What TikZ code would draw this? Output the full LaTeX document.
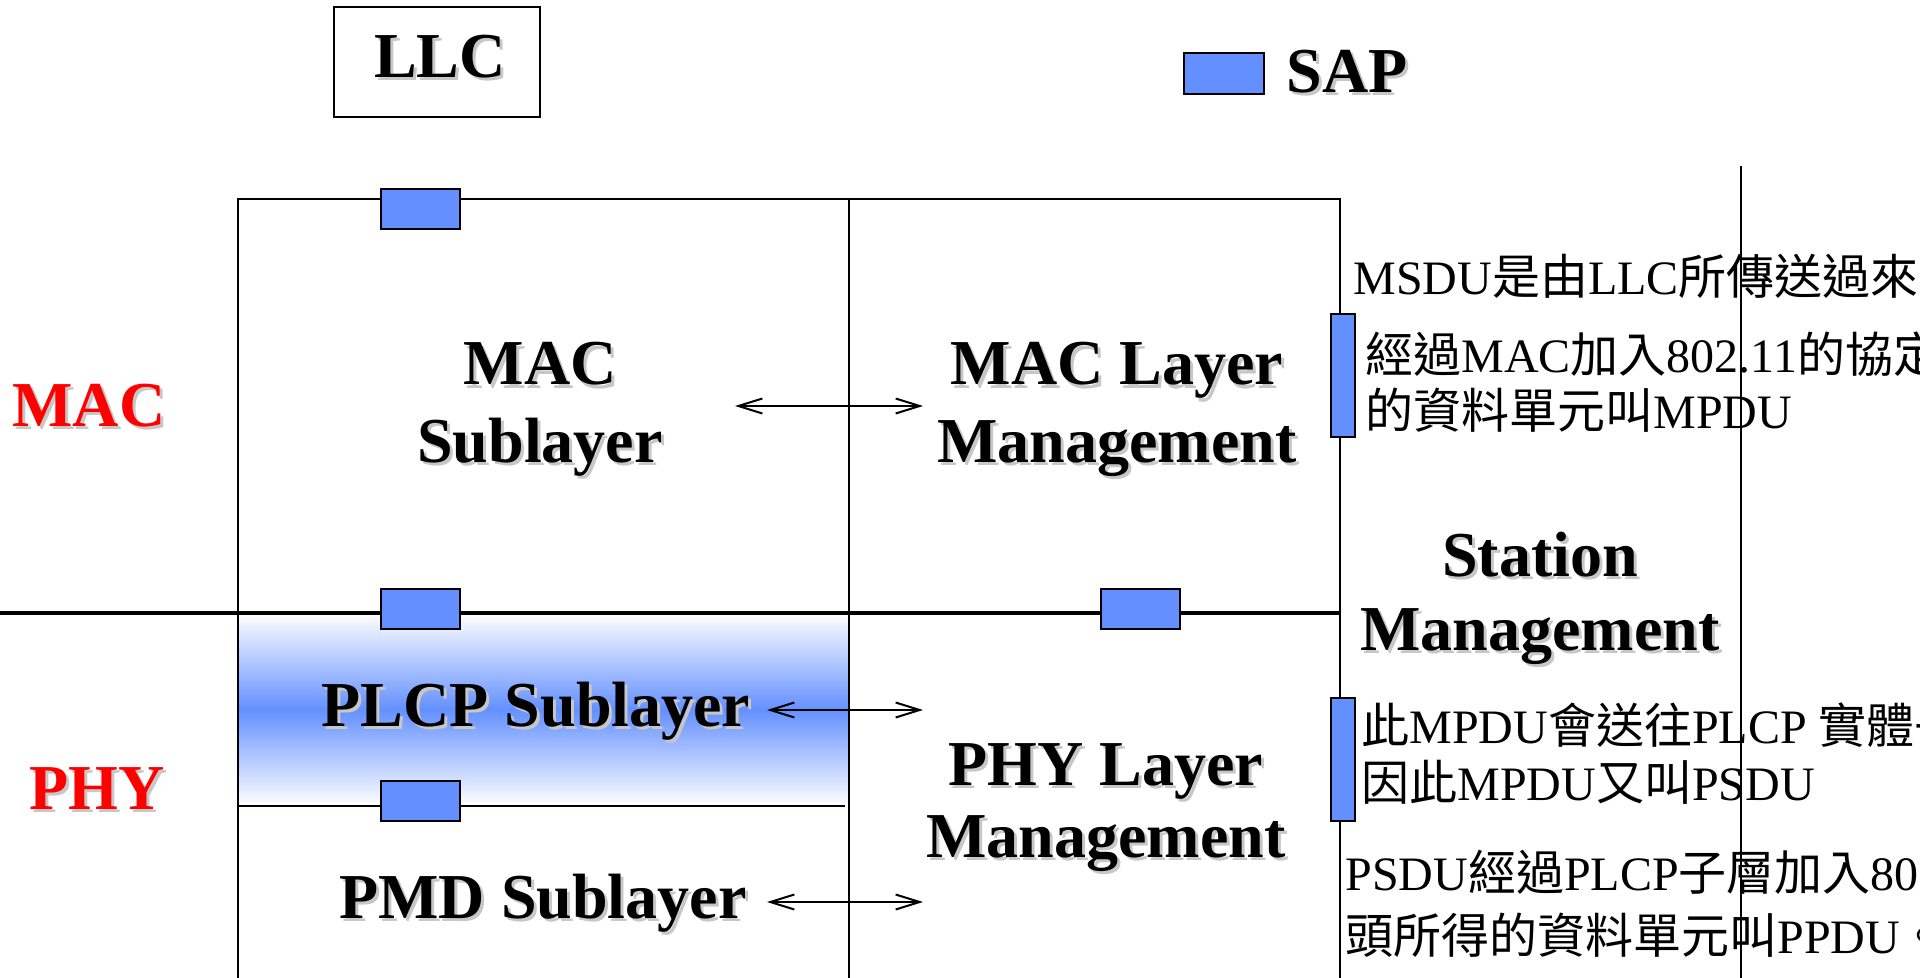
\documentclass[tikz,border=0pt]{standalone}
\usepackage{fontspec}
\setmainfont{Liberation Serif}
\newfontfamily\cjk{Noto Sans CJK TC}
\usetikzlibrary{arrows.meta}
\definecolor{sapblue}{RGB}{100,144,255}
\definecolor{labred}{RGB}{255,0,0}
\newcommand\shlabel[4]{%
  \node[biglbl,#3,text=black!22] at ([xshift=1.5pt,yshift=-1.5pt]#2) {#4};
  \node[biglbl,#3] (#1) at (#2) {#4};
}
\begin{document}
\begin{tikzpicture}[x=0.5pt,y=-0.5pt,
  biglbl/.style={anchor=base,inner sep=0pt,font=\bfseries\fontsize{32}{38}\selectfont},
  cjklbl/.style={anchor=base west,inner sep=0pt,font=\fontsize{24}{28}\selectfont},
  frame/.style={line width=1.2pt},
  layerline/.style={line width=2.4pt},
  sapbox/.style={draw,fill=sapblue,line width=1pt,inner sep=0pt,minimum width=39.5pt,minimum height=20pt},
  sapvert/.style={draw,fill=sapblue,line width=1pt,inner sep=0pt,minimum width=12pt,minimum height=61.5pt},
  conn/.style={line width=1pt,{Straight Barb[length=12pt,width=7.5pt]}-{Straight Barb[length=12pt,width=7.5pt]}}]
\useasboundingbox (0,0) rectangle (1920,978);
\clip (0,0) rectangle (1920,978);
\fill[white] (0,0) rectangle (1920,978);
% PLCP gradient
\shade[top color=white,bottom color=white,middle color=sapblue] (238,613) rectangle (849,806);
% frame lines
\draw[frame] (238,978) -- (238,199) -- (1340,199) -- (1340,978);
\draw[frame] (849,199) -- (849,978);
\draw[layerline] (0,613) -- (1340,613);
\draw[frame] (238,806) -- (845,806);
\draw[frame] (1741,166) -- (1741,978);
% LLC box
\node[draw,line width=1.2pt,inner sep=0pt,minimum width=103pt,minimum height=55pt] (llc) at (437,62) {};
% SAP boxes
\node[sapbox] (sapllc) at (420.5,209) {};
\node[sapbox] (sapmac) at (420.5,609) {};
\node[sapbox] (sapmgmt) at (1140.5,609) {};
\node[sapbox] (sapplcp) at (420.5,801) {};
\node[sapbox,minimum width=40pt,minimum height=20.5pt] (saplegend) at (1224,73.5) {};
\node[sapvert] (sapv1) at (1343,375.5) {};
\node[sapvert] (sapv2) at (1343,759.5) {};
% labels
\shlabel{llctext}{440,78}{}{LLC}
\shlabel{saptext}{1286,93}{anchor=base west}{SAP}
\shlabel{maclbl}{89,426}{text=labred}{MAC}
\shlabel{phylbl}{97,809}{text=labred}{PHY}
\shlabel{macsubA}{540,385}{}{MAC}
\shlabel{macsubB}{540,462}{}{Sublayer}
\shlabel{macmgA}{1117,385}{}{MAC Layer}
\shlabel{macmgB}{1117,462}{}{Management}
\shlabel{stA}{1540,576}{}{Station}
\shlabel{stB}{1540,650}{}{Management}
\shlabel{plcp}{536,726}{}{PLCP Sublayer}
\shlabel{pmd}{543,918}{}{PMD Sublayer}
\shlabel{phymgA}{1106,785}{}{PHY Layer}
\shlabel{phymgB}{1106,857}{}{Management}
% arrows
\coordinate (ma) at (735,406);
\coordinate (mb) at (923,406);
\coordinate (pa) at (767,710);
\coordinate (pb) at (923,710);
\coordinate (da) at (767,902);
\coordinate (db) at (923,902);
\draw[conn] (ma) -- (mb);
\draw[conn] (pa) -- (pb);
\draw[conn] (da) -- (db);
% notes
\node[cjklbl] (n1) at (1353,295) {MSDU{\cjk 是由}LLC{\cjk 所傳送過來的}};
\node[cjklbl] (n2) at (1365,372) {{\cjk 經過}MAC{\cjk 加入}802.11{\cjk 的協定}};
\node[cjklbl] (n3) at (1365,428) {{\cjk 的資料單元叫}MPDU};
\node[cjklbl] (n4) at (1361,743) {{\cjk 此}MPDU{\cjk 會送往}PLCP {\cjk 實體子}};
\node[cjklbl] (n5) at (1361,800) {{\cjk 因此}MPDU{\cjk 又叫}PSDU};
\node[cjklbl] (n6) at (1345,890) {PSDU{\cjk 經過}PLCP{\cjk 子層加入}802};
\node[cjklbl] (n7) at (1345,953) {{\cjk 頭所得的資料單元叫}PPDU{\cjk 。}};
\end{tikzpicture}
\end{document}
